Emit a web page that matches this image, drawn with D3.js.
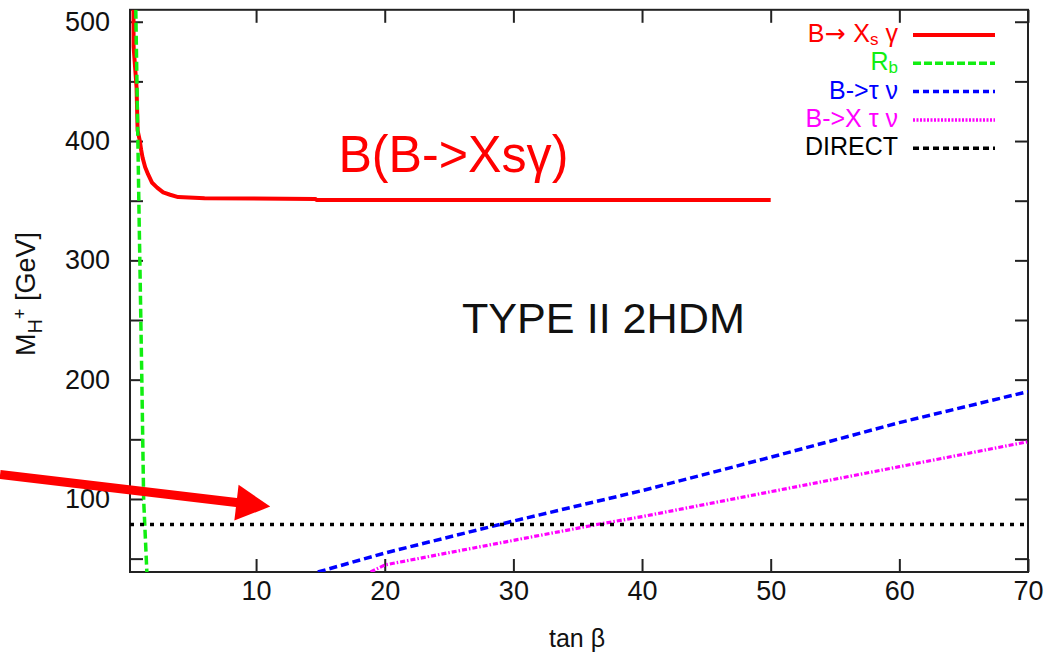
<!DOCTYPE html>
<html>
<head>
<meta charset="utf-8">
<script src="https://cdn.jsdelivr.net/npm/d3@7"></script>
<style>
  html, body { margin: 0; padding: 0; background: #fff; }
  svg { display: block; }
  text { font-family: "Liberation Sans", Arial, Helvetica, sans-serif; }
</style>
</head>
<body>
<svg id="chart" width="1053" height="656"></svg>
<script>
// ---- Exclusion bounds in the (tan beta, M_H+) plane ----
// B -> Xs gamma lower bound on the charged Higgs mass
const bsgTanb = [0.47, 0.48, 0.71, 0.79, 0.95, 1.06, 1.18, 1.38, 1.61, 1.92, 2.31, 2.78, 3.32, 3.94, 6.0, 14.6, 14.7, 50];
const bsgMass = [510, 479, 445, 409, 401, 393, 386, 378, 372, 365, 361, 357, 355, 353, 352, 351.5, 350.6, 350.6];
// R_b bound (low tan beta)
const rbTanb = [0.65, 0.91, 0.99, 1.12, 1.26, 1.51];
const rbMass = [510, 334, 284, 200, 100, 38.8];
// B -> tau nu
const btnTanb = [14.8, 20, 30, 40, 50, 60, 70];
const btnMass = [38.8, 54.7, 81.5, 107, 135, 164, 190];
// B -> X tau nu
const bxtnTanb = [18.9, 20, 30, 36.7, 40, 50, 60, 70];
const bxtnMass = [38.8, 44.7, 65.3, 79, 85.2, 106.1, 127.1, 148];
// Direct search limit
const directTanb = [0.2, 70];
const directMass = [78.6, 78.6];

// Axis ticks
const xTicks = [10, 20, 30, 40, 50, 60, 70];
const yTicks = [50, 100, 150, 200, 250, 300, 350, 400, 450, 500];
const yLabelled = [100, 200, 300, 400, 500];

const svg = d3.select("#chart");
const W = 1053, H = 656;
const plot = { left: 130, right: 1028, top: 9.8, bottom: 572 };

svg.append("rect").attr("width", W).attr("height", H).attr("fill", "#fff");

const x = d3.scaleLinear().domain([0.2, 70]).range([plot.left, plot.right]);
const y = d3.scaleLinear().domain([38.8, 510]).range([plot.bottom, plot.top]);

svg.append("defs").append("clipPath").attr("id", "plotClip")
  .append("rect")
  .attr("x", plot.left).attr("y", plot.top)
  .attr("width", plot.right - plot.left).attr("height", plot.bottom - plot.top);

// ---- Axes (ticks pointing inward, mirrored on top/right) ----
const tickLen = 13;
const axisFont = 27;

const gx = svg.append("g").attr("transform", `translate(0,${plot.bottom})`)
  .call(d3.axisBottom(x).tickValues(xTicks).tickSizeInner(-tickLen).tickSizeOuter(0).tickPadding(9));
const gxTop = svg.append("g").attr("transform", `translate(0,${plot.top})`)
  .call(d3.axisTop(x).tickValues(xTicks).tickSizeInner(-tickLen).tickSizeOuter(0).tickFormat(""));
const gy = svg.append("g").attr("transform", `translate(${plot.left},0)`)
  .call(d3.axisLeft(y).tickValues(yTicks).tickSizeInner(-tickLen).tickSizeOuter(0).tickPadding(20)
    .tickFormat(d => yLabelled.includes(d) ? d : ""));
const gyRight = svg.append("g").attr("transform", `translate(${plot.right},0)`)
  .call(d3.axisRight(y).tickValues(yTicks).tickSizeInner(-tickLen).tickSizeOuter(0).tickFormat(""));

[gx, gxTop, gy, gyRight].forEach(g => {
  g.select(".domain").remove();
  g.selectAll(".tick line").attr("stroke", "#222").attr("stroke-width", 2);
  g.selectAll(".tick text").attr("fill", "#111").attr("font-size", axisFont)
    .attr("font-family", "'Liberation Sans', Arial, sans-serif");
});

// Frame
svg.append("rect")
  .attr("x", plot.left).attr("y", plot.top)
  .attr("width", plot.right - plot.left).attr("height", plot.bottom - plot.top)
  .attr("fill", "none").attr("stroke", "#222").attr("stroke-width", 2);

// Axis titles
svg.append("text")
  .attr("x", (plot.left + plot.right) / 2 - 2).attr("y", 647)
  .attr("text-anchor", "middle").attr("font-size", 25).attr("fill", "#111")
  .text("tan β");

const yTitle = svg.append("text")
  .attr("transform", "translate(35,294) rotate(-90)")
  .attr("text-anchor", "middle").attr("font-size", 27).attr("fill", "#111");
yTitle.append("tspan").text("M");
yTitle.append("tspan").attr("font-size", 20).attr("dy", 7).text("H");
yTitle.append("tspan").attr("font-size", 18).attr("dy", -16).text("+");
yTitle.append("tspan").attr("dy", 9).text(" [GeV]");

// ---- Curves ----
const series = [
  { tanb: bsgTanb, mass: bsgMass, color: "#ff0000", width: 4, dash: null },
  { tanb: rbTanb, mass: rbMass, color: "#11ee11", width: 3.5, dash: "9,4" },
  { tanb: btnTanb, mass: btnMass, color: "#0000ff", width: 3.5, dash: "8,4" },
  { tanb: bxtnTanb, mass: bxtnMass, color: "#ff00ff", width: 3.2, dash: "5,2,1.5,2" },
  { tanb: directTanb, mass: directMass, color: "#000000", width: 3.5, dash: "4,6" }
];

const line = d3.line().x(d => x(d[0])).y(d => y(d[1]));
const curves = svg.append("g").attr("clip-path", "url(#plotClip)");
series.forEach(s => {
  curves.append("path")
    .datum(s.tanb.map((t, i) => [t, s.mass[i]]))
    .attr("d", line)
    .attr("fill", "none")
    .attr("stroke", s.color)
    .attr("stroke-width", s.width)
    .attr("stroke-dasharray", s.dash)
    .attr("stroke-linejoin", "round");
});

// ---- Legend ----
const legend = svg.append("g");
const legendTextX = 898, legendLineX0 = 913, legendLineX1 = 995;
const legendRow0 = 35, legendStep = 28.3;
const legendDash = ["", "8,3", "6,4", "2,1.5", "6,4"];
// [text, subscript?, font family override]
const legendParts = [
  [["B", 0], ["→ ", 0, "DejaVu Sans"], ["X", 0], ["s", 1], [" γ", 0]],
  [["R", 0], ["b", 1]],
  [["B->τ ν", 0]],
  [["B->X τ ν", 0]],
  [["DIRECT", 0]]
];
series.forEach((s, i) => {
  const ly = legendRow0 + i * legendStep;
  const t = legend.append("text")
    .attr("x", legendTextX).attr("y", ly + 7)
    .attr("text-anchor", "end").attr("font-size", 25).attr("fill", s.color);
  let shifted = 0;
  legendParts[i].forEach(([txt, sub, fam]) => {
    const ts = t.append("tspan").text(txt);
    if (fam) ts.attr("font-family", fam);
    if (sub && !shifted) { ts.attr("dy", 3).attr("font-size", 17); shifted = 1; }
    else if (!sub && shifted) { ts.attr("dy", -3); shifted = 0; }
  });
  legend.append("line")
    .attr("x1", legendLineX0).attr("x2", legendLineX1)
    .attr("y1", ly).attr("y2", ly)
    .attr("stroke", s.color).attr("stroke-width", i === 0 ? 4 : 3.5)
    .attr("stroke-dasharray", legendDash[i] || null);
});

// ---- Annotations ----
svg.append("text")
  .attr("x", x(16.4)).attr("y", y(374.3))
  .attr("font-size", 52).attr("fill", "#ff0000")
  .attr("textLength", 230).attr("lengthAdjust", "spacingAndGlyphs")
  .text("B(B->Xsγ)");

svg.append("text")
  .attr("x", x(26.0)).attr("y", y(239))
  .attr("font-size", 42).attr("fill", "#111")
  .attr("textLength", 283).attr("lengthAdjust", "spacingAndGlyphs")
  .text("TYPE II 2HDM");

// Arrow pointing at the direct-search limit
const arrowFrom = [-9.9, 120.5], arrowTo = [11.1, 93.6];
const p0 = [x(arrowFrom[0]), y(arrowFrom[1])], p1 = [x(arrowTo[0]), y(arrowTo[1])];
const ang = Math.atan2(p1[1] - p0[1], p1[0] - p0[0]);
const headLen = 34, headHalf = 18;
const ux = Math.cos(ang), uy = Math.sin(ang);
const base = [p1[0] - headLen * ux, p1[1] - headLen * uy];
svg.append("line")
  .attr("x1", p0[0]).attr("y1", p0[1]).attr("x2", base[0] + ux * 2).attr("y2", base[1] + uy * 2)
  .attr("stroke", "#ff0000").attr("stroke-width", 9);
svg.append("path")
  .attr("d", d3.line()([
    p1,
    [base[0] - headHalf * uy, base[1] + headHalf * ux],
    [base[0] + headHalf * uy, base[1] - headHalf * ux]
  ]) + "Z")
  .attr("fill", "#ff0000");
</script>
</body>
</html>
